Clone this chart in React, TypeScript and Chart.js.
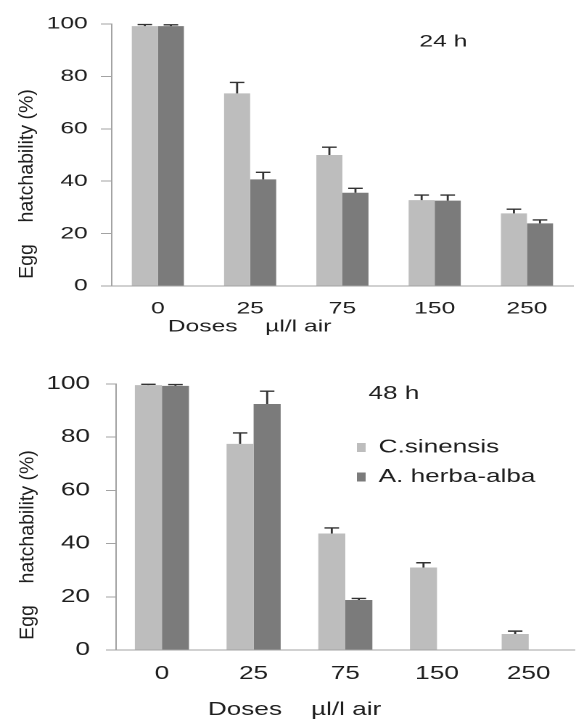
import React, { useEffect, useRef } from 'react';
import { Chart, registerables } from 'chart.js';

Chart.register(...registerables);

// ---- data ----
const doses = ['0', '25', '75', '150', '250'];
const seriesNames = ['C.sinensis', 'A. herba-alba'];
const sinensis24 = [99.2, 73.5, 50.0, 32.8, 27.7];
const sinensis24Err = [0.6, 4.2, 3.0, 1.9, 1.6];
const herba24 = [99.2, 40.7, 35.6, 32.6, 23.9];
const herba24Err = [0.5, 2.7, 1.7, 2.1, 1.3];
const sinensis48 = [99.6, 77.5, 43.8, 31.0, 6.0];
const sinensis48Err = [0.3, 4.1, 2.1, 1.8, 1.1];
const herba48 = [99.3, 92.5, 18.8, 0, 0];
const herba48Err = [0.5, 4.8, 0.6, 0, 0];
const yTicks = [0, 20, 40, 60, 80, 100];
const yTitle = 'Egg    hatchability (%)';
const xTitle = 'Doses    µl/l air';
const panelLabels = ['24 h', '48 h'];

// ---- styles ----
const LIGHT = '#bdbdbd';
const DARK = '#7b7b7b';
const AXIS = '#a3a3a3';
const TEXT = '#1e1e1e';
const ERR = '#333333';
const FONT = "'Liberation Sans', Arial, sans-serif";
const STRETCH = 1.45; // the figure is widened horizontally
const INNER_W = 397;

type Panel = {
  height: number;
  top: number;
  right: number;
  yWidth: number;
  xHeight: number;
  tickLen: number;
  yPad: number;
  xPad: number;
  catPct: number;
  tickSize: number;
  a: number[];
  aErr: number[];
  b: number[];
  bErr: number[];
  label: string;
  labelX: number;
  labelY: number;
  labelSize: number;
  xTitleX: number;
  xTitleY: number;
  xTitleSize: number;
  yTitleX: number;
  yTitleShift: number;
  yTitleSize: number;
  legend: boolean;
};

const panels: Panel[] = [
  {
    height: 345, top: 24, right: 2, yWidth: 77, xHeight: 59, tickLen: 7.5, yPad: 9, xPad: 4.5,
    catPct: 0.565, tickSize: 17,
    a: sinensis24, aErr: sinensis24Err, b: herba24, bErr: herba24Err,
    label: panelLabels[0], labelX: 289, labelY: 42, labelSize: 17,
    xTitleX: 172, xTitleY: 327, xTitleSize: 17,
    yTitleX: 19, yTitleShift: 29, yTitleSize: 19.5,
    legend: false,
  },
  {
    height: 375, top: 39, right: 1, yWidth: 80, xHeight: 70, tickLen: 7, yPad: 11, xPad: 5,
    catPct: 0.59, tickSize: 18,
    a: sinensis48, aErr: sinensis48Err, b: herba48, bErr: herba48Err,
    label: panelLabels[1], labelX: 254, labelY: 49, labelSize: 18,
    xTitleX: 203, xTitleY: 365, xTitleSize: 18,
    yTitleX: 19.5, yTitleShift: 28, yTitleSize: 19.5,
    legend: true,
  },
];

function ChartPanel({ p }: { p: Panel }) {
  const ref = useRef<HTMLCanvasElement | null>(null);

  useEffect(() => {
    const canvas = ref.current;
    if (!canvas) return;

    const errs = [p.aErr, p.bErr];

    const errorBars = {
      id: 'errorBars',
      afterDatasetsDraw(chart: any) {
        const ctx = chart.ctx;
        const yScale = chart.scales.y;
        ctx.save();
        ctx.strokeStyle = ERR;
        ctx.lineWidth = 1.4;
        chart.data.datasets.forEach((ds: any, di: number) => {
          const meta = chart.getDatasetMeta(di);
          meta.data.forEach((el: any, i: number) => {
            const v = ds.data[i];
            const e = errs[di][i];
            if (!v || !e) return;
            const yTop = yScale.getPixelForValue(v + e);
            const cap = 5;
            ctx.beginPath();
            ctx.moveTo(el.x, el.y);
            ctx.lineTo(el.x, yTop);
            ctx.moveTo(el.x - cap, yTop);
            ctx.lineTo(el.x + cap, yTop);
            ctx.stroke();
          });
        });
        ctx.restore();
      },
    };

    const texts = {
      id: 'texts',
      afterDraw(chart: any) {
        const ctx = chart.ctx;
        const area = chart.chartArea;
        ctx.save();
        ctx.fillStyle = TEXT;

        // panel label
        ctx.font = `${p.labelSize}px ${FONT}`;
        ctx.textAlign = 'left';
        ctx.textBaseline = 'middle';
        ctx.fillText(p.label, p.labelX, p.labelY);

        // x title
        ctx.font = `${p.xTitleSize}px ${FONT}`;
        ctx.textAlign = 'center';
        ctx.fillText(xTitle, p.xTitleX, p.xTitleY);

        // y title (not widened: undo the horizontal stretch)
        ctx.save();
        ctx.translate(p.yTitleX, (area.top + area.bottom) / 2 + p.yTitleShift);
        ctx.scale(1 / STRETCH, 1);
        ctx.rotate(-Math.PI / 2);
        ctx.font = `${p.yTitleSize}px ${FONT}`;
        ctx.textAlign = 'center';
        ctx.textBaseline = 'middle';
        ctx.fillText(yTitle, 0, 0);
        ctx.restore();

        // legend
        if (p.legend) {
          ctx.font = `18px ${FONT}`;
          ctx.textAlign = 'left';
          ctx.textBaseline = 'middle';
          const rows = [102.5, 132];
          chart.data.datasets.forEach((ds: any, i: number) => {
            ctx.fillStyle = ds.backgroundColor;
            ctx.fillRect(246, rows[i] - 4.5, 6, 9);
            ctx.fillStyle = TEXT;
            ctx.fillText(ds.label, 261, rows[i]);
          });
        }
        ctx.restore();
      },
    };

    const tickFont = { family: FONT, size: p.tickSize };

    const chart = new Chart(canvas, {
      type: 'bar',
      data: {
        labels: doses,
        datasets: [
          { label: seriesNames[0], data: p.a, backgroundColor: LIGHT, borderWidth: 0, barPercentage: 1, categoryPercentage: p.catPct },
          { label: seriesNames[1], data: p.b, backgroundColor: DARK, borderWidth: 0, barPercentage: 1, categoryPercentage: p.catPct },
        ],
      },
      options: {
        responsive: false,
        animation: false,
        devicePixelRatio: 2,
        events: [],
        layout: { padding: { top: p.top, right: p.right, left: 0, bottom: 0 } },
        plugins: {
          legend: { display: false },
          tooltip: { enabled: false },
          title: { display: false },
        },
        scales: {
          x: {
            type: 'category',
            grid: { display: false },
            border: { display: true, color: AXIS, width: 1 },
            ticks: { font: tickFont, color: TEXT, padding: p.xPad, maxRotation: 0, autoSkip: false },
            afterFit: (s: any) => { s.height = p.xHeight; },
          },
          y: {
            min: 0,
            max: 100,
            afterBuildTicks: (s: any) => { s.ticks = yTicks.map((v) => ({ value: v })); },
            grid: { display: true, drawOnChartArea: false, drawTicks: true, tickLength: p.tickLen, color: AXIS, lineWidth: 1 },
            border: { display: true, color: AXIS, width: 1 },
            ticks: { font: tickFont, color: TEXT, padding: p.yPad },
            afterFit: (s: any) => { s.width = p.yWidth; },
          },
        },
      } as any,
      plugins: [errorBars, texts],
    });

    return () => chart.destroy();
  }, [p]);

  return (
    <canvas
      ref={ref}
      width={INNER_W}
      height={p.height}
      style={{ display: 'block', width: `${Math.round(INNER_W * STRETCH)}px`, height: `${p.height}px` }}
    />
  );
}

export default function App() {
  return (
    <div style={{ position: 'absolute', left: 0, top: 0, width: 576, height: 720, background: '#fff', overflow: 'hidden' }}>
      {panels.map((p, i) => (
        <ChartPanel key={i} p={p} />
      ))}
    </div>
  );
}
